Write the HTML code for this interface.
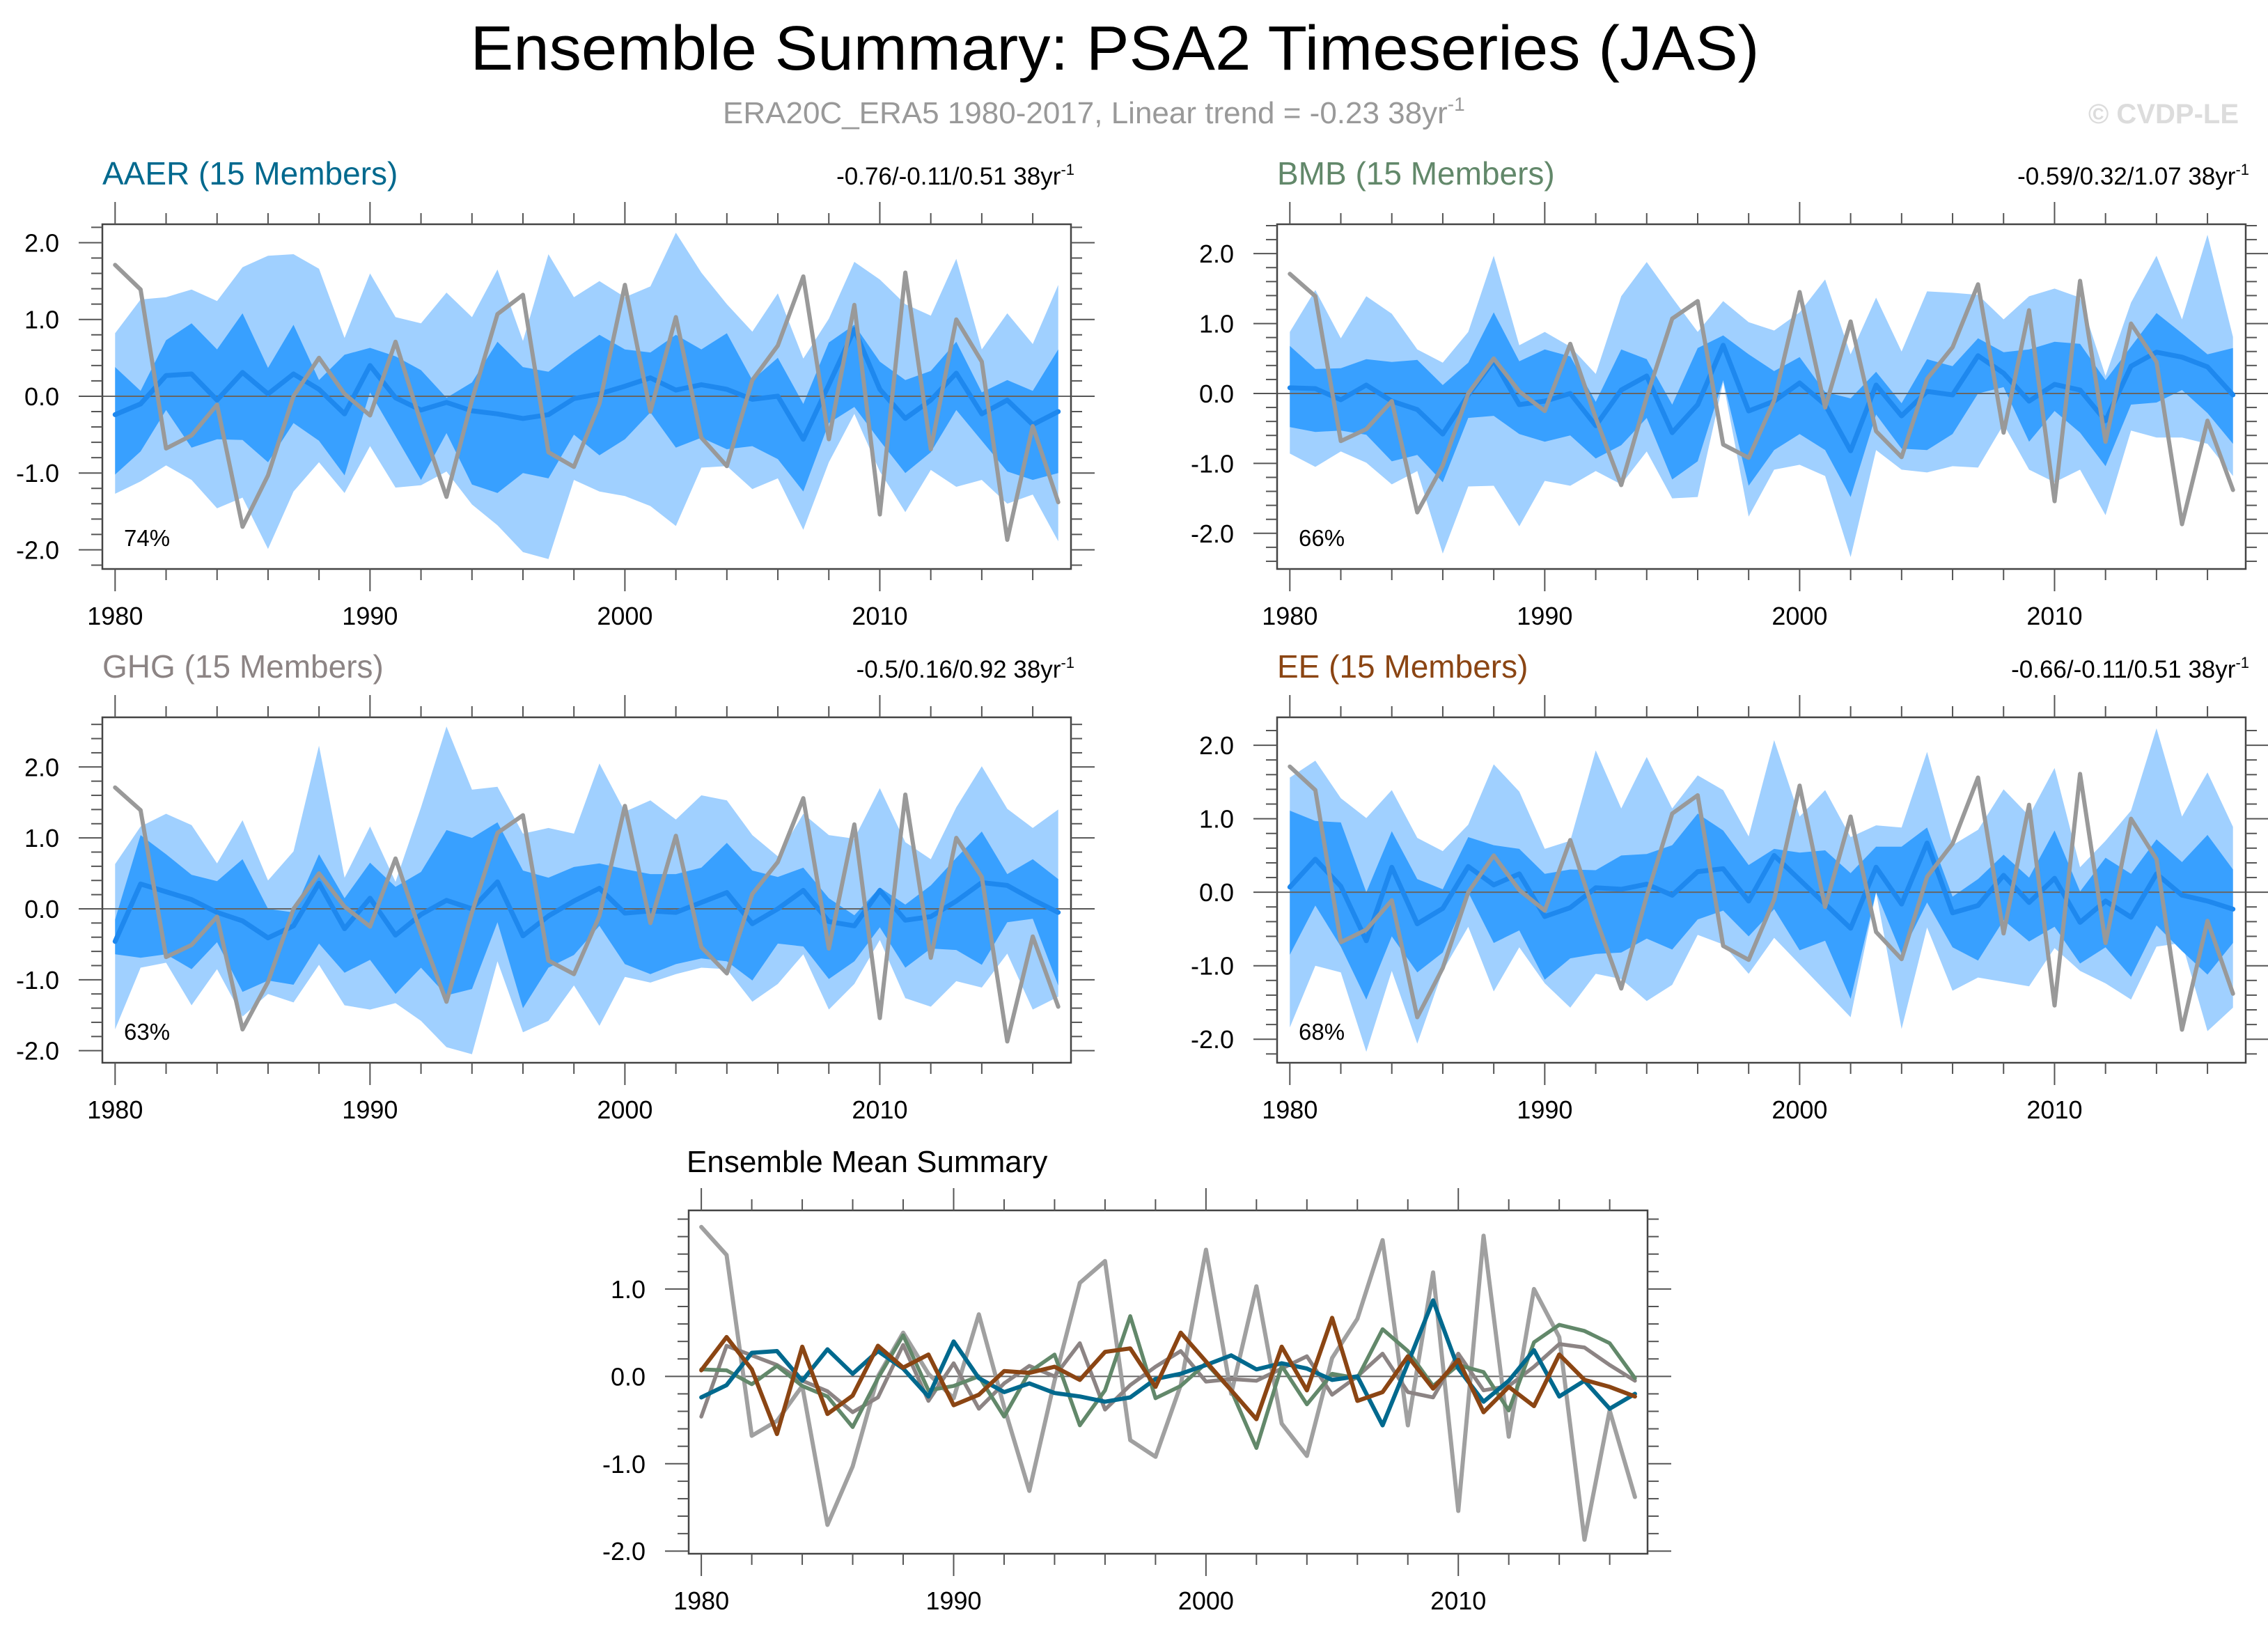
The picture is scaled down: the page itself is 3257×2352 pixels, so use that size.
<!DOCTYPE html>
<html><head><meta charset="utf-8"><style>
html,body{margin:0;padding:0;background:#fff;}
svg{display:block;font-family:"Liberation Sans",Arial,sans-serif;}
</style></head><body>
<svg id="chart" xmlns="http://www.w3.org/2000/svg" width="3257" height="2352" viewBox="0 0 3257 2352">
<rect x="0" y="0" width="3257" height="2352" fill="#fff"/>
<text x="1601" y="100" text-anchor="middle" font-size="90" fill="#000" textLength="1851" lengthAdjust="spacingAndGlyphs">Ensemble Summary: PSA2 Timeseries (JAS)</text>
<text x="1038" y="177" font-size="44" fill="#999">ERA20C_ERA5 1980-2017, Linear trend = -0.23 38yr<tspan dy="-18" font-size="28">-1</tspan></text>
<text x="3215" y="177" text-anchor="end" font-size="40" font-weight="bold" fill="#dcdcdc">© CVDP-LE</text>
<g id="plots"></g>
</svg>
<script>
const years = [];
for (let y = 1980; y <= 2017; y++) years.push(y);

const obs = [1.71,1.39,-0.68,-0.51,-0.11,-1.70,-1.03,0.0,0.50,0.03,-0.25,0.71,-0.35,-1.31,-0.05,1.07,1.32,-0.73,-0.92,-0.10,1.45,-0.20,1.03,-0.54,-0.91,0.21,0.66,1.56,-0.56,1.19,-1.54,1.61,-0.69,1.00,0.45,-1.87,-0.39,-1.38];

const aaerMean = [-0.24,-0.10,0.27,0.29,-0.05,0.31,0.03,0.29,0.09,-0.23,0.40,-0.02,-0.18,-0.08,-0.19,-0.23,-0.29,-0.24,-0.03,0.03,0.13,0.24,0.08,0.15,0.09,-0.04,0.0,-0.56,0.15,0.87,0.09,-0.29,-0.05,0.30,-0.23,-0.05,-0.37,-0.20];
const aaerDarkHi = [0.38,0.07,0.73,0.95,0.61,1.08,0.37,0.93,0.21,0.54,0.63,0.52,0.34,-0.02,0.18,0.71,0.38,0.32,0.57,0.80,0.61,0.57,0.80,0.61,0.82,0.21,0.50,-0.10,0.70,0.93,0.45,0.21,0.33,0.71,0.05,0.21,0.07,0.61];
const aaerDarkLo = [-1.02,-0.72,-0.18,-0.67,-0.56,-0.57,-0.86,-0.35,-0.58,-1.03,0.05,-0.52,-1.09,-0.48,-1.15,-1.26,-1.0,-1.07,-0.50,-0.77,-0.56,-0.21,-0.67,-0.54,-0.69,-0.65,-0.82,-1.24,-0.35,-0.14,-0.58,-1.0,-0.73,-0.18,-0.58,-0.98,-1.09,-1.0];
const aaerLightHi = [0.82,1.26,1.29,1.39,1.24,1.68,1.83,1.85,1.66,0.76,1.60,1.03,0.95,1.35,1.03,1.65,0.72,1.85,1.29,1.50,1.29,1.43,2.13,1.61,1.20,0.84,1.34,0.49,1.01,1.75,1.52,1.20,1.05,1.79,0.61,1.08,0.68,1.45];
const aaerLightLo = [-1.27,-1.11,-0.90,-1.09,-1.46,-1.32,-1.99,-1.24,-0.86,-1.26,-0.65,-1.19,-1.16,-0.98,-1.41,-1.68,-2.03,-2.12,-1.09,-1.24,-1.30,-1.43,-1.69,-0.93,-0.91,-1.21,-1.07,-1.74,-0.86,-0.23,-0.98,-1.51,-0.96,-1.18,-1.09,-1.40,-1.28,-1.89];

const bmbMean = [0.08,0.07,-0.09,0.12,-0.11,-0.23,-0.58,-0.02,0.47,-0.16,-0.11,0.0,-0.46,0.05,0.25,-0.56,-0.16,0.69,-0.25,-0.11,0.15,-0.16,-0.82,0.12,-0.32,0.03,-0.02,0.54,0.29,-0.11,0.13,0.05,-0.39,0.39,0.59,0.52,0.38,-0.02];
const bmbDarkHi = [0.68,0.35,0.36,0.49,0.45,0.48,0.12,0.44,1.16,0.46,0.63,0.53,-0.12,0.63,0.49,-0.16,0.65,0.83,0.56,0.32,0.52,0.02,-0.07,0.31,-0.14,0.49,0.39,0.79,0.59,0.63,0.74,0.71,0.19,0.67,1.15,0.86,0.56,0.65];
const bmbDarkLo = [-0.48,-0.55,-0.53,-0.59,-0.97,-0.88,-1.27,-0.35,-0.32,-0.58,-0.69,-0.60,-0.93,-0.74,-0.35,-1.23,-0.97,0.19,-1.32,-0.81,-0.58,-0.81,-1.48,-0.30,-0.79,-0.81,-0.58,0.0,0.09,-0.69,-0.25,-0.56,-1.04,-0.16,-0.13,0.05,-0.28,-0.72];
const bmbLightHi = [0.88,1.48,0.79,1.39,1.14,0.63,0.44,0.88,1.97,0.69,0.88,0.67,0.28,1.39,1.88,1.37,0.88,1.32,1.02,0.90,1.16,1.63,0.56,1.37,0.60,1.46,1.44,1.41,1.06,1.39,1.50,1.37,0.25,1.30,1.97,1.06,2.27,0.81];
const bmbLightLo = [-0.86,-1.05,-0.83,-0.99,-1.30,-1.11,-2.29,-1.33,-1.32,-1.90,-1.25,-1.32,-1.11,-1.30,-0.83,-1.50,-1.48,0.16,-1.76,-1.09,-1.02,-1.18,-2.34,-0.81,-1.09,-1.13,-1.04,-1.06,-0.44,-1.09,-1.27,-1.09,-1.74,-0.53,-0.63,-0.63,-0.72,-1.18];

const ghgMean = [-0.46,0.35,0.24,0.13,-0.05,-0.17,-0.41,-0.24,0.36,-0.28,0.15,-0.37,-0.08,0.12,0.0,0.38,-0.38,-0.10,0.11,0.29,-0.06,-0.03,-0.05,0.09,0.23,-0.21,0.0,0.26,-0.18,-0.24,0.26,-0.16,-0.11,0.11,0.37,0.33,0.13,-0.05];
const ghgDarkHi = [-0.15,1.04,0.77,0.48,0.39,0.70,0.0,-0.05,0.77,0.15,0.65,0.31,0.52,1.11,1.0,1.22,0.54,0.44,0.59,0.64,0.56,0.49,0.49,0.58,0.93,0.54,0.45,0.58,0.15,-0.09,0.30,0.06,0.33,0.72,1.09,0.49,0.70,0.42];
const ghgDarkLo = [-0.64,-0.69,-0.64,-0.85,-0.47,-1.17,-1.01,-1.07,-0.49,-0.90,-0.72,-1.20,-0.83,-1.22,-1.13,-0.19,-1.40,-0.83,-0.65,-0.24,-0.78,-0.92,-0.78,-0.70,-0.74,-1.01,-0.49,-0.53,-0.99,-0.74,-0.26,-0.83,-0.56,-0.58,-0.79,-0.19,-0.14,-1.08];
const ghgLightHi = [0.63,1.16,1.34,1.18,0.64,1.25,0.40,0.81,2.30,0.44,1.16,0.38,1.43,2.57,1.68,1.72,1.06,1.14,1.06,2.05,1.37,1.53,1.26,1.60,1.53,1.04,0.74,1.34,1.04,0.99,1.70,0.94,0.70,1.43,2.01,1.41,1.14,1.40];
const ghgLightLo = [-1.70,-0.83,-0.76,-1.36,-0.85,-1.52,-1.20,-1.32,-0.79,-1.36,-1.42,-1.33,-1.58,-1.95,-2.05,-0.74,-1.74,-1.58,-1.08,-1.65,-0.96,-1.04,-0.92,-0.83,-0.85,-1.31,-1.06,-0.64,-1.42,-1.06,-0.44,-1.26,-1.38,-1.02,-1.11,-0.63,-1.42,-1.24];

const eeMean = [0.07,0.45,0.08,-0.66,0.34,-0.43,-0.22,0.35,0.10,0.25,-0.33,-0.21,0.06,0.04,0.11,-0.04,0.28,0.32,-0.12,0.50,0.17,-0.16,-0.49,0.34,-0.16,0.67,-0.28,-0.18,0.23,-0.14,0.19,-0.41,-0.12,-0.34,0.25,-0.04,-0.12,-0.23];
const eeDarkHi = [1.11,0.97,0.95,0.0,0.83,0.18,0.04,0.75,0.64,0.59,0.25,0.31,0.30,0.50,0.52,0.64,1.07,0.84,0.37,0.59,0.54,0.57,0.26,0.62,0.62,0.88,-0.06,0.18,0.51,0.20,0.84,0.01,0.47,0.25,0.72,0.41,0.78,0.31];
const eeDarkLo = [-0.85,-0.18,-0.74,-1.46,-0.60,-1.09,-0.82,0.0,-0.69,-0.52,-1.19,-0.90,-0.84,-0.82,-0.63,-0.78,-0.37,-0.25,-0.60,-0.23,-0.79,-0.66,-1.45,0.0,-0.84,-0.14,-0.75,-0.93,-0.38,-0.67,-0.47,-0.97,-0.75,-1.15,-0.45,-0.80,-1.12,-0.69];
const eeLightHi = [1.56,1.79,1.28,1.01,1.39,0.74,0.56,0.92,1.74,1.37,0.59,0.70,1.93,1.14,1.84,1.14,1.59,1.39,0.76,2.07,1.03,1.39,0.75,0.91,0.88,1.91,0.64,0.85,1.40,1.04,1.69,0.34,0.70,1.11,2.23,1.03,1.63,0.89];
const eeLightLo = [-1.84,-1.00,-1.09,-2.17,-1.07,-2.06,-1.07,-0.47,-1.35,-0.75,-1.24,-1.57,-1.11,-1.18,-1.48,-1.26,-0.58,-0.71,-1.11,-0.62,-0.98,-1.34,-1.70,0.0,-1.86,-0.48,-1.34,-1.16,-1.22,-1.28,-0.76,-1.07,-1.24,-1.46,-0.74,-0.69,-1.89,-1.57];

const xTickLabels = [1980, 1990, 2000, 2010];
const yTickLabels = [-2.0, -1.0, 0.0, 1.0, 2.0];

const NS = "http://www.w3.org/2000/svg";
const root = document.getElementById('plots');
function mk(tag, attrs, parent) {
  const el = document.createElementNS(NS, tag);
  for (const k in attrs) el.setAttribute(k, attrs[k]);
  (parent || root).appendChild(el);
  return el;
}

const panels = [
  {key:'aaer', title:'AAER (15 Members)', color:'#00698e', trend:'-0.76/-0.11/0.51 38yr', pct:'74%', L:147, R:1538, T:322, B:817, ymin:-2.25, ymax:2.24, mean:aaerMean, dh:aaerDarkHi, dl:aaerDarkLo, lh:aaerLightHi, ll:aaerLightLo},
  {key:'bmb', title:'BMB (15 Members)', color:'#62886a', trend:'-0.59/0.32/1.07 38yr', pct:'66%', L:1834, R:3225, T:322, B:817, ymin:-2.51, ymax:2.42, mean:bmbMean, dh:bmbDarkHi, dl:bmbDarkLo, lh:bmbLightHi, ll:bmbLightLo},
  {key:'ghg', title:'GHG (15 Members)', color:'#8c8484', trend:'-0.5/0.16/0.92 38yr', pct:'63%', L:147, R:1538, T:1030, B:1526, ymin:-2.17, ymax:2.70, mean:ghgMean, dh:ghgDarkHi, dl:ghgDarkLo, lh:ghgLightHi, ll:ghgLightLo},
  {key:'ee', title:'EE (15 Members)', color:'#8b4513', trend:'-0.66/-0.11/0.51 38yr', pct:'68%', L:1834, R:3225, T:1030, B:1526, ymin:-2.32, ymax:2.38, mean:eeMean, dh:eeDarkHi, dl:eeDarkLo, lh:eeLightHi, ll:eeLightLo}
];

function axes(p, g) {
  const xs = v => p.L + (v - 1979.5) / 38 * (p.R - p.L);
  const ys = v => p.B - (v - p.ymin) / (p.ymax - p.ymin) * (p.B - p.T);
  p.xs = xs; p.ys = ys;
  return {xs, ys};
}

function frameAndTicks(p, g, yLabels) {
  const {xs, ys} = p;
  const f = mk('rect', {x:p.L, y:p.T, width:p.R-p.L, height:p.B-p.T, fill:'none', stroke:'#444', 'stroke-width':2.5}, g);
  
  
  for (let yr = 1980; yr <= 2017; yr += 2) {
    const major = (yr % 10 === 0);
    const len = major ? 32 : 16;
    const x = xs(yr);
    const t1 = mk('line', {x1:x, x2:x, y1:p.T, y2:p.T-len, stroke:'#555', 'stroke-width':2}, g);
    
    
    const t2 = mk('line', {x1:x, x2:x, y1:p.B, y2:p.B+len, stroke:'#555', 'stroke-width':2}, g);
    
    
  }
  xTickLabels.forEach(v => {
    const t = mk('text', {x:xs(v), y:p.B+80, 'text-anchor':'middle', 'font-size':36, fill:'#000'}, g);
    t.textContent = String(v);
    
    
  });
  const start = Math.ceil(p.ymin * 5 - 1e-6);
  const end = Math.floor(p.ymax * 5 + 1e-6);
  for (let k = start; k <= end; k++) {
    const v = k / 5;
    const major = (k % 5 === 0);
    const len = major ? 34 : 16;
    const y = ys(v);
    const a = mk('line', {x1:p.L, x2:p.L-len, y1:y, y2:y, stroke:'#555', 'stroke-width':2}, g);
    
    
    const b = mk('line', {x1:p.R, x2:p.R+len, y1:y, y2:y, stroke:'#555', 'stroke-width':2}, g);
    
    
  }
  yLabels.forEach(v => {
    if (v < p.ymin || v > p.ymax) return;
    const t = mk('text', {x:p.L-62, y:ys(v)+13, 'text-anchor':'end', 'font-size':36, fill:'#000'}, g);
    t.textContent = v.toFixed(1);
    
    
  });
}

function linePath(xs, ys, arr) {
  return arr.map((v, i) => (i ? 'L' : 'M') + xs(years[i]).toFixed(1) + ',' + ys(v).toFixed(1)).join(' ');
}
function bandPath(xs, ys, hi, lo) {
  let d = hi.map((v, i) => (i ? 'L' : 'M') + xs(years[i]).toFixed(1) + ',' + ys(v).toFixed(1)).join(' ');
  for (let i = lo.length - 1; i >= 0; i--) d += ' L' + xs(years[i]).toFixed(1) + ',' + ys(lo[i]).toFixed(1);
  return d + ' Z';
}

panels.forEach(p => {
  const g = mk('g', {});
  
  
  const {xs, ys} = axes(p, g);
  const lb = mk('path', {d:bandPath(xs, ys, p.lh, p.ll), fill:'#a0d0ff'}, g);
  
  
  const db = mk('path', {d:bandPath(xs, ys, p.dh, p.dl), fill:'#38a0ff'}, g);
  
  
  const z = mk('line', {x1:p.L, x2:p.R, y1:ys(0), y2:ys(0), stroke:'#666', 'stroke-width':2}, g);
  
  
  const ml = mk('path', {d:linePath(xs, ys, p.mean), fill:'none', stroke:'#1e88ee', 'stroke-width':7, 'stroke-linejoin':'round', 'stroke-linecap':'round'}, g);
  
  
  const ol = mk('path', {d:linePath(xs, ys, obs), fill:'none', stroke:'#999', 'stroke-width':6, 'stroke-linejoin':'round', 'stroke-linecap':'round'}, g);
  
  
  frameAndTicks(p, g, yTickLabels);
  const tb = p.T - 57;
  const t = mk('text', {x:p.L, y:tb, 'font-size':46, fill:p.color}, g);
  t.textContent = p.title;
  
  
  const tr = mk('text', {x:p.R+5, y:tb, 'text-anchor':'end', 'font-size':35, fill:'#000'}, g);
  tr.textContent = p.trend;
  const sup = mk('tspan', {dy:-14, 'font-size':22}, tr);
  sup.textContent = '-1';
  
  
  const pc = mk('text', {x:p.L+31, y:p.B-33, 'font-size':33, fill:'#000'}, g);
  pc.textContent = p.pct;
  
  
});

// Ensemble mean summary panel
const sp = {L:989, R:2366, T:1738, B:2231, ymin:-2.03, ymax:1.90};
const sg = mk('g', {});


const sax = axes(sp, sg);
const sz = mk('line', {x1:sp.L, x2:sp.R, y1:sax.ys(0), y2:sax.ys(0), stroke:'#666', 'stroke-width':2}, sg);


const summarySeries = [
  {name:'obs', data:obs, color:'#a0a0a0', w:6},
  {name:'ghg', data:ghgMean, color:'#8c8484', w:5.5},
  {name:'bmb', data:bmbMean, color:'#62886a', w:5.5},
  {name:'aaer', data:aaerMean, color:'#00698e', w:6},
  {name:'ee', data:eeMean, color:'#8b4513', w:6}
];
summarySeries.forEach(s => {
  const l = mk('path', {d:linePath(sax.xs, sax.ys, s.data), fill:'none', stroke:s.color, 'stroke-width':s.w, 'stroke-linejoin':'round', 'stroke-linecap':'round'}, sg);
  
  
});
frameAndTicks(sp, sg, yTickLabels);
const st = mk('text', {x:986, y:1683, 'font-size':44, fill:'#000'}, sg);
st.textContent = 'Ensemble Mean Summary';


</script>
</body></html>
